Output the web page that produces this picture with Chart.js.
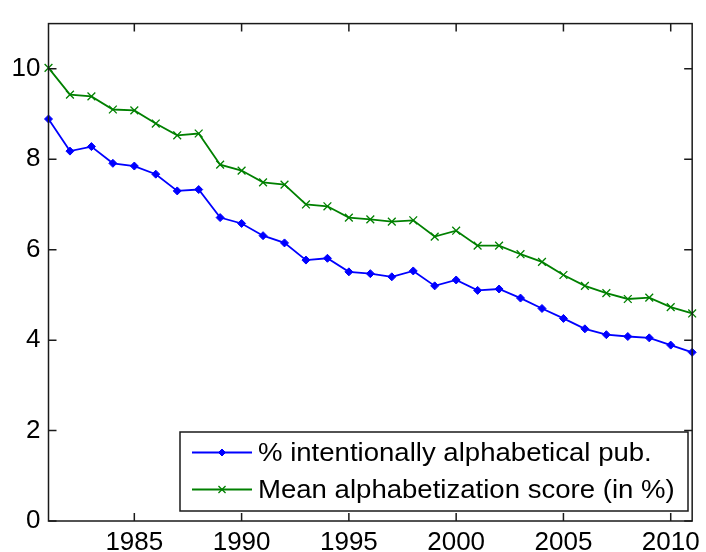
<!DOCTYPE html>
<html><head><meta charset="utf-8">
<script src="https://cdn.jsdelivr.net/npm/chart.js@4/dist/chart.umd.min.js"></script>
<style>html,body{margin:0;padding:0;background:#fff}#wrap{width:706px;height:552px}</style>
</head><body><div id="wrap"><canvas id="c" width="706" height="552"></canvas></div>
<script>
const years = [1981,1982,1983,1984,1985,1986,1987,1988,1989,1990,1991,1992,1993,1994,1995,1996,1997,1998,1999,2000,2001,2002,2003,2004,2005,2006,2007,2008,2009,2010,2011];
const pctAlphabetical = [8.89,8.18,8.28,7.91,7.85,7.67,7.30,7.33,6.71,6.58,6.31,6.15,5.77,5.81,5.51,5.47,5.40,5.53,5.20,5.33,5.10,5.13,4.93,4.70,4.48,4.25,4.12,4.08,4.05,3.89,3.73];
const meanScore = [10.02,9.43,9.39,9.10,9.08,8.79,8.53,8.57,7.88,7.75,7.49,7.44,7.00,6.96,6.71,6.67,6.62,6.65,6.29,6.42,6.09,6.09,5.90,5.73,5.44,5.20,5.04,4.91,4.94,4.73,4.59];
const xTickValues = [1985,1990,1995,2000,2005,2010];
const yTickValues = [0,2,4,6,8,10];
const seriesLabels = ['% intentionally alphabetical pub.', 'Mean alphabetization score (in %)'];
const seriesColors = ['#0000ff', '#008000'];

const FONT = '"Liberation Sans", Arial, Helvetica, sans-serif';

const framePlugin = {
  id: 'frame',
  afterDraw(chart) {
    const ctx = chart.ctx, a = chart.chartArea;
    const xs = chart.scales.x, ys = chart.scales.y;
    ctx.save();
    ctx.strokeStyle = '#1a1a1a';
    ctx.lineWidth = 1.5;
    ctx.strokeRect(a.left, a.top, a.right - a.left, a.bottom - a.top);
    ctx.beginPath();
    const tl = 8;
    xTickValues.forEach(v => {
      const px = xs.getPixelForValue(v);
      ctx.moveTo(px, a.bottom); ctx.lineTo(px, a.bottom - tl);
      ctx.moveTo(px, a.top); ctx.lineTo(px, a.top + tl);
    });
    yTickValues.forEach(v => {
      const py = ys.getPixelForValue(v);
      ctx.moveTo(a.left, py); ctx.lineTo(a.left + tl, py);
      ctx.moveTo(a.right, py); ctx.lineTo(a.right - tl, py);
    });
    ctx.stroke();

    // legend box inside plot (bottom right)
    const bx = 180, by = 432, bw = 508, bh = 79;
    ctx.fillStyle = '#fff';
    ctx.fillRect(bx, by, bw, bh);
    ctx.strokeStyle = '#1a1a1a';
    ctx.lineWidth = 1.5;
    ctx.strokeRect(bx, by, bw, bh);
    const rows = [by + 20.5, by + 57.5];
    chart.data.datasets.forEach((ds, i) => {
      const y = rows[i];
      ctx.strokeStyle = ds.borderColor;
      ctx.fillStyle = ds.backgroundColor;
      ctx.lineWidth = 1.8;
      ctx.beginPath();
      ctx.moveTo(bx + 12, y); ctx.lineTo(bx + 72, y);
      ctx.stroke();
      ctx.lineWidth = ds.pointBorderWidth;
      Chart.helpers.drawPoint(ctx, {pointStyle: ds.pointStyle, radius: ds.pointRadius - 0.5, borderWidth: ds.pointBorderWidth}, bx + 42, y);
      ctx.fillStyle = '#000';
      ctx.font = '26px ' + FONT;
      ctx.textBaseline = 'middle';
      ctx.textAlign = 'left';
      ctx.save();
      ctx.translate(bx + 78, y + 1);
      ctx.scale(1.06, 1);
      ctx.fillText(ds.label, 0, 0);
      ctx.restore();
    });
    ctx.restore();
  }
};

const toPoints = vals => years.map((yr, i) => ({x: yr, y: vals[i]}));

new Chart(document.getElementById('c'), {
  type: 'line',
  data: {
    datasets: [
      {label: seriesLabels[0], data: toPoints(pctAlphabetical), borderColor: seriesColors[0], backgroundColor: seriesColors[0],
       borderWidth: 1.8, pointStyle: 'rectRot', pointRadius: 4, pointBorderWidth: 1, fill: false, tension: 0, clip: false},
      {label: seriesLabels[1], data: toPoints(meanScore), borderColor: seriesColors[1], backgroundColor: seriesColors[1],
       borderWidth: 1.8, pointStyle: 'crossRot', pointRadius: 5.5, pointBorderWidth: 1.3, fill: false, tension: 0, clip: false}
    ]
  },
  options: {
    responsive: false, animation: false, devicePixelRatio: 1,
    layout: {padding: {left: 0, right: 11, top: 13, bottom: 0}},
    plugins: {legend: {display: false}, tooltip: {enabled: false}},
    scales: {
      x: {
        type: 'linear', min: 1981, max: 2011,
        afterBuildTicks: s => { s.ticks = xTickValues.map(v => ({value: v})); },
        afterFit: s => { s.height = 31; },
        grid: {display: false, drawTicks: false},
        border: {display: false},
        ticks: {color: '#000', font: {family: FONT, size: 26}, padding: 6, maxRotation: 0, autoSkip: false, callback: v => String(v)}
      },
      y: {
        min: 0, max: 11,
        afterBuildTicks: s => { s.ticks = yTickValues.map(v => ({value: v})); },
        afterFit: s => { s.width = 48.5; },
        grid: {display: false, drawTicks: false},
        border: {display: false},
        ticks: {color: '#000', font: {family: FONT, size: 26}, padding: 8, callback: v => String(v)}
      }
    }
  },
  plugins: [framePlugin]
});
</script></body></html>
